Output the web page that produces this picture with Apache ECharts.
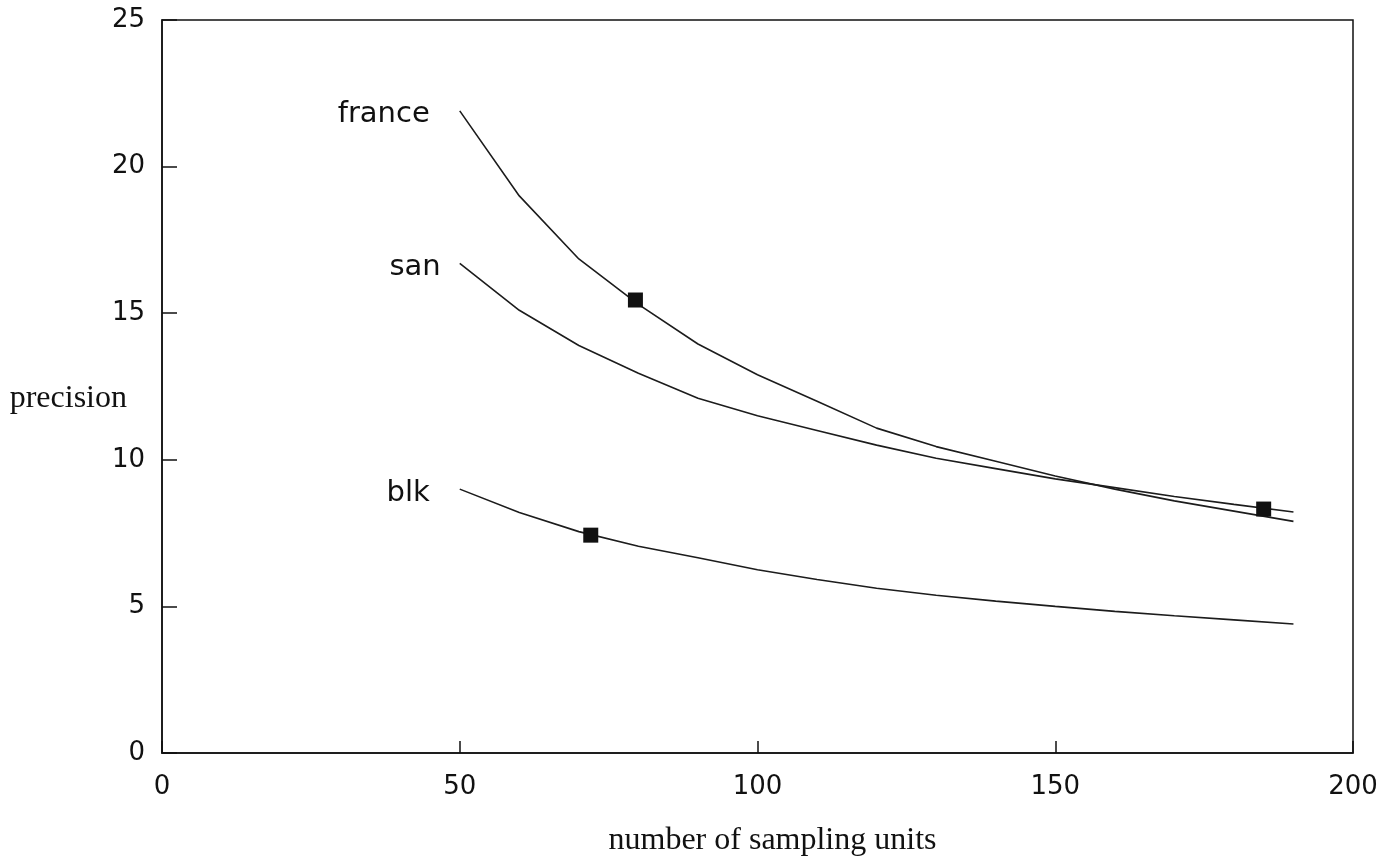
<!DOCTYPE html>
<html>
<head>
<meta charset="utf-8">
<style>
  html, body { margin: 0; padding: 0; background: #ffffff; }
  #chart { width: 1396px; height: 857px; }
</style>
<script src="https://cdn.jsdelivr.net/npm/echarts@6/dist/echarts.min.js"></script>
</head>
<body>
<div id="chart"></div>
<script>
// ---- data ----
const sampleSizes = [50, 60, 70, 80, 90, 100, 110, 120, 130, 140, 150, 160, 170, 180, 190];
const france = [21.9, 19.0, 16.85, 15.3, 13.95, 12.9, 12.0, 11.08, 10.45, 9.95, 9.45, 9.0, 8.6, 8.25, 7.9];
const san    = [16.7, 15.1, 13.9, 12.95, 12.1, 11.5, 11.0, 10.5, 10.05, 9.7, 9.35, 9.05, 8.75, 8.48, 8.22];
const blk    = [9.0, 8.2, 7.55, 7.05, 6.66, 6.25, 5.92, 5.62, 5.38, 5.18, 5.0, 4.83, 4.68, 4.54, 4.4];
const seriesNames = ['france', 'san', 'blk'];
const markerX = [79.5, 72, 185];
const markerY = [15.45, 7.43, 8.32];
const xTicks = [0, 50, 100, 150, 200];
const yTicks = [0, 5, 10, 15, 20, 25];
const xTitle = 'number of sampling units';
const yTitle = 'precision';

const sans = 'DejaVu Sans';
const serif = 'Liberation Serif';
const ink = '#111111';

function lineSeries(name, values, labelDist) {
  return {
    name: name,
    type: 'line',
    smooth: false,
    showSymbol: true,
    symbol: 'circle',
    symbolSize: 0,
    lineStyle: { color: '#1c1c1c', width: 1.6 },
    itemStyle: { color: '#1c1c1c' },
    label: { show: false },
    data: values.map((v, i) => {
      const item = { value: [sampleSizes[i], v] };
      if (i === 0) {
        item.label = {
          show: true, position: 'left', distance: labelDist, offset: [0, 4],
          formatter: name, fontFamily: sans, fontSize: 29, color: ink
        };
      }
      return item;
    }),
    z: 3
  };
}

const chart = echarts.init(document.getElementById('chart'), null, { renderer: 'canvas' });
chart.setOption({
  animation: false,
  backgroundColor: '#ffffff',
  grid: {
    left: 162, right: 43, top: 20, bottom: 104,
    containLabel: false,
    outerBoundsMode: 'none',
    show: true, borderColor: ink, borderWidth: 1.5, backgroundColor: 'transparent'
  },
  xAxis: {
    type: 'value',
    min: xTicks[0], max: xTicks[xTicks.length - 1], interval: xTicks[1] - xTicks[0],
    name: xTitle,
    nameLocation: 'middle',
    nameGap: 72,
    nameMoveOverlap: false,
    nameTextStyle: { fontFamily: serif, fontSize: 32, color: ink, padding: [0, 0, 0, 30] },
    axisLine: { show: true, lineStyle: { color: ink, width: 1.5 } },
    axisTick: { show: true, inside: true, length: 12, lineStyle: { color: ink, width: 1.5 } },
    axisLabel: { fontFamily: sans, fontSize: 26, color: ink, margin: 21 },
    splitLine: { show: false }
  },
  yAxis: {
    type: 'value',
    min: yTicks[0], max: yTicks[yTicks.length - 1], interval: yTicks[1] - yTicks[0],
    name: yTitle,
    nameLocation: 'middle',
    nameRotate: 0,
    nameGap: 35,
    nameMoveOverlap: false,
    nameTextStyle: { fontFamily: serif, fontSize: 32, color: ink, verticalAlign: 'top', lineHeight: 24 },
    axisLine: { show: true, lineStyle: { color: ink, width: 1.5 } },
    axisTick: { show: true, inside: true, length: 15, lineStyle: { color: ink, width: 1.5 } },
    axisLabel: { fontFamily: sans, fontSize: 26, color: ink, margin: 17 },
    splitLine: { show: false }
  },
  series: [
    lineSeries(seriesNames[0], france, 30),
    lineSeries(seriesNames[1], san, 19),
    lineSeries(seriesNames[2], blk, 30),
    {
      name: 'optimum',
      type: 'scatter',
      symbol: 'rect',
      symbolSize: 15,
      itemStyle: { color: ink, opacity: 1 },
      data: markerX.map((x, i) => [x, markerY[i]]),
      z: 4
    }
  ]
});
</script>
</body>
</html>
